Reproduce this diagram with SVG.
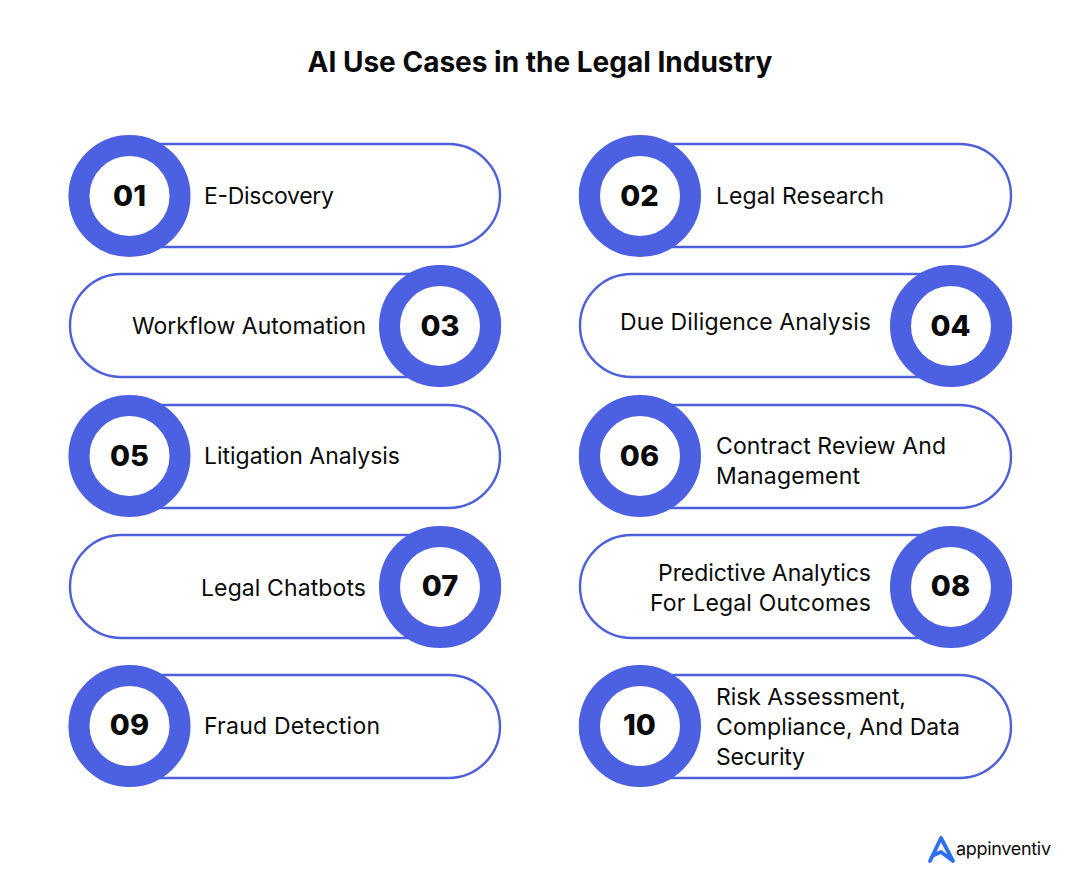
<svg xmlns="http://www.w3.org/2000/svg" width="1080" height="892" viewBox="0 0 1080 892">
<style>
text{font-family:"Inter","Liberation Sans",sans-serif;fill:#0b0b0b}
.t{font-size:23px;font-weight:400}
.n{font-size:29px;font-weight:800;text-anchor:middle}
.e{text-anchor:end}
.p{fill:#fff;stroke:#4c60dc;stroke-width:2.4}
.r{fill:#fff;stroke:#4c60e2;stroke-width:21}
</style>
<rect width="1080" height="892" fill="#fff"/>
<text x="540" y="72" text-anchor="middle" style="font-size:28px;font-weight:700">AI Use Cases in the Legal Industry</text>
<g id="connectors"/>
<g id="n01"><rect class="p" x="70" y="144" width="430" height="103" rx="51.5"/><circle class="r" cx="129.500" cy="196" r="50.5"/><text class="n" x="129.500" y="206">01</text><text class="t" x="204" y="204" textLength="130">E-Discovery</text></g>
<g id="n02"><rect class="p" x="580" y="144" width="431" height="103" rx="51.5"/><circle class="r" cx="640" cy="196" r="50.5"/><text class="n" x="639.500" y="206">02</text><text class="t" x="716" y="204" textLength="168">Legal Research</text></g>
<g id="n03"><rect class="p" x="70" y="274" width="430" height="103" rx="51.5"/><circle class="r" cx="440" cy="326" r="50.5"/><text class="n" x="440" y="336">03</text><text class="t" x="132" y="334" textLength="234">Workflow Automation</text></g>
<g id="n04"><rect class="p" x="580" y="274" width="431" height="103" rx="51.5"/><circle class="r" cx="951" cy="326" r="50.5"/><text class="n" x="950.500" y="336">04</text><text class="t" x="620" y="330" textLength="251">Due Diligence Analysis</text></g>
<g id="n05"><rect class="p" x="70" y="405" width="430" height="103" rx="51.5"/><circle class="r" cx="129.500" cy="456" r="50.5"/><text class="n" x="129.500" y="466">05</text><text class="t" x="204" y="464" textLength="196">Litigation Analysis</text></g>
<g id="n06"><rect class="p" x="580" y="405" width="431" height="103" rx="51.5"/><circle class="r" cx="640" cy="456" r="50.5"/><text class="n" x="639.500" y="466">06</text><text class="t" x="716" y="454" textLength="230">Contract Review And</text><text class="t" x="716" y="484" textLength="144">Management</text></g>
<g id="n07"><rect class="p" x="70" y="535" width="430" height="103" rx="51.5"/><circle class="r" cx="440" cy="587" r="50.5"/><text class="n" x="440" y="596">07</text><text class="t" x="201" y="596" textLength="165">Legal Chatbots</text></g>
<g id="n08"><rect class="p" x="580" y="535" width="431" height="103" rx="51.5"/><circle class="r" cx="951" cy="587" r="50.5"/><text class="n" x="950.500" y="596">08</text><text class="t" x="658" y="581" textLength="213">Predictive Analytics</text><text class="t" x="650" y="611" textLength="221">For Legal Outcomes</text></g>
<g id="n09"><rect class="p" x="70" y="675" width="430" height="103" rx="51.5"/><circle class="r" cx="129.500" cy="726" r="50.5"/><text class="n" x="129.500" y="735">09</text><text class="t" x="204" y="734" textLength="176">Fraud Detection</text></g>
<g id="n10"><rect class="p" x="580" y="675" width="431" height="103" rx="51.5"/><circle class="r" cx="640" cy="726" r="50.5"/><text class="n" x="639.500" y="735">10</text><text class="t" x="716" y="705" textLength="190">Risk Assessment,</text><text class="t" x="716" y="735" textLength="244">Compliance, And Data</text><text class="t" x="716" y="765" textLength="89">Security</text></g>
<g id="logo"><path d="M930 861 L941 838 L953 861 L941 852 L934 855" fill="none" stroke="#2b6ff0" stroke-width="3.800" stroke-linecap="round" stroke-linejoin="round"/><text x="956" y="855" textLength="95" style="font-size:18px;font-weight:400">appinventiv</text></g>
</svg>
